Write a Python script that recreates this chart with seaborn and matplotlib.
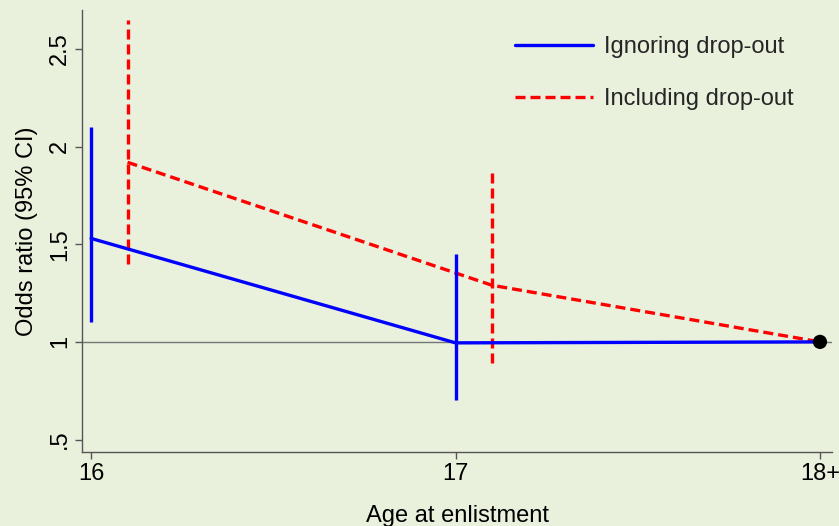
import numpy as np
import pandas as pd
import matplotlib
matplotlib.use('Agg')
import matplotlib.pyplot as plt
import seaborn as sns

# values
ages = [16, 17, 18]
age_labels = ['16', '17', '18+']

or_ignoring = [1.53, 0.995, 1.0]
lo_ignoring = [1.10, 0.70]
hi_ignoring = [2.10, 1.45]

or_including = [1.92, 1.29, 1.0]
lo_including = [1.40, 0.89]
hi_including = [2.65, 1.87]

offset = 0.1  # red series is shifted right a little so CIs don't overlap

bg = '#E9F0DC'
sns.set_theme(style='ticks')
plt.rcParams['font.family'] = ['Liberation Sans', 'DejaVu Sans']

df_ign = pd.DataFrame({'age': ages, 'or': or_ignoring})
df_inc = pd.DataFrame({'age': [ages[0] + offset, ages[1] + offset, ages[2]], 'or': or_including})

fs = 17
lw = 2.4
dash = (3.0, 1.5)

fig = plt.figure(figsize=(8.39, 5.26), dpi=100, facecolor=bg)
ax = fig.add_axes([82 / 839, 1 - 452 / 526, 750 / 839, 442 / 526], facecolor=bg)

ax.axhline(1, color='#777777', lw=1.0, zorder=1)

sns.lineplot(data=df_ign, x='age', y='or', color='#0000FF', lw=lw, ax=ax,
             label='Ignoring drop-out', zorder=3)
sns.lineplot(data=df_inc, x='age', y='or', color='#FF0000', lw=lw, ax=ax,
             label='Including drop-out', zorder=2)
ax.lines[-1].set_dashes(dash)

# confidence intervals
ax.vlines(ages[:2], lo_ignoring, hi_ignoring, color='#0000FF', lw=lw, zorder=3)
ax.vlines([a + offset for a in ages[:2]], lo_including, hi_including, color='#FF0000',
          lw=lw, linestyles=(0, dash), zorder=2)

# reference category marker
sns.scatterplot(x=[ages[2]], y=[1.0], color='black', s=105, ax=ax, zorder=5,
                legend=False, edgecolor='none')

ax.set_xlim(15.975, 18.033)
ax.set_ylim(0.436, 2.70)
ax.set_xticks(ages)
ax.set_xticklabels(age_labels)
ax.set_yticks([0.5, 1, 1.5, 2, 2.5])
ax.set_yticklabels(['.5', '1', '1.5', '2', '2.5'], rotation=90, va='center')

ax.set_xlabel('Age at enlistment', fontsize=fs, color='black', labelpad=14)
ax.set_ylabel('Odds ratio (95% CI)', fontsize=fs, color='black', labelpad=8)
ax.tick_params(axis='both', labelsize=fs, colors='#555555', labelcolor='black',
               length=5, width=1, direction='out', pad=3)

sns.despine(ax=ax)
for s in ['left', 'bottom']:
    ax.spines[s].set_color('#555555')
    ax.spines[s].set_linewidth(1.0)

leg = ax.legend(loc='upper left', frameon=False, fontsize=fs, handlelength=3.3,
                labelspacing=1.27, handletextpad=0.45, borderpad=0, borderaxespad=0,
                bbox_to_anchor=(515 / 839, 1 - 36 / 526), bbox_transform=fig.transFigure)

fig.savefig('out.png', dpi=100, facecolor=bg)
